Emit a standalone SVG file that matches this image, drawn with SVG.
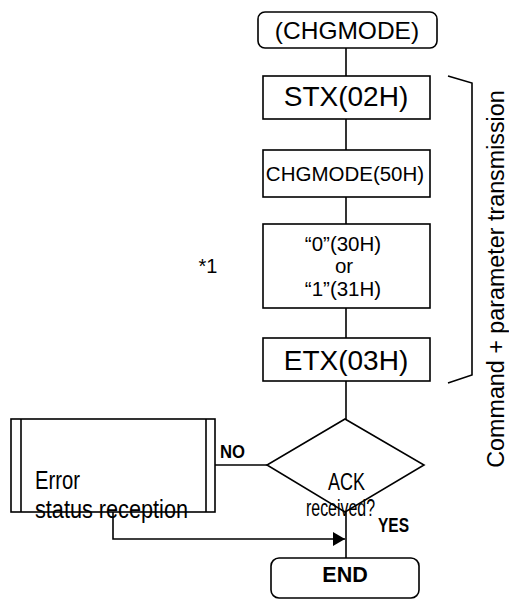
<svg xmlns="http://www.w3.org/2000/svg" width="509" height="599" viewBox="0 0 509 599">
  <style>
    .box { fill: #fff; stroke: #000; stroke-width: 1.6; }
    .ln { fill: none; stroke: #000; stroke-width: 1.6; }
    .t { font-family: "Liberation Sans", Arial, sans-serif; fill: #000; text-anchor: middle; }
    .n { font-family: "Liberation Sans Narrow", "Liberation Sans", Arial, sans-serif; fill: #000; }
    .b { font-weight: bold; }
  </style>
  <defs>
    <marker id="arrow" markerWidth="12" markerHeight="14" refX="12" refY="7" orient="auto" markerUnits="userSpaceOnUse">
      <path d="M0,0 L12,7 L0,14 Z" fill="#000"/>
    </marker>
  </defs>

  <!-- connectors -->
  <g id="connectors">
    <line class="ln" x1="346" y1="48" x2="346" y2="76"/>
    <line class="ln" x1="346" y1="119" x2="346" y2="150"/>
    <line class="ln" x1="346" y1="197" x2="346" y2="224"/>
    <line class="ln" x1="346" y1="308" x2="346" y2="338"/>
    <line class="ln" x1="346" y1="381" x2="346" y2="419"/>
    <line class="ln" x1="346" y1="512" x2="346" y2="558"/>
    <line class="ln" x1="267" y1="465" x2="215" y2="465"/>
    <polyline class="ln" points="113,512 113,539 345,539" marker-end="url(#arrow)"/>
    <!-- bracket grouping the transmitted bytes -->
    <polyline class="ln" points="448,76 472,83 472,375 448,383"/>
  </g>

  <g id="start">
    <rect class="box" x="258" y="12" width="179" height="36" rx="7"/>
    <text class="t" x="347" y="39" font-size="24.5">(CHGMODE)</text>
  </g>

  <g id="stx">
    <rect class="box" x="263" y="76" width="167" height="43"/>
    <text class="t" x="346" y="106" font-size="28">STX(02H)</text>
  </g>

  <g id="cmd">
    <rect class="box" x="263" y="150" width="167" height="47"/>
    <text class="t" x="345" y="181" font-size="20.5">CHGMODE(50H)</text>
  </g>

  <g id="param">
    <rect class="box" x="263" y="224" width="167" height="84"/>
    <text class="t" x="343" y="251" font-size="20.5">“0”(30H)</text>
    <text class="t" x="344" y="273" font-size="20.5">or</text>
    <text class="t" x="343" y="296" font-size="20.5">“1”(31H)</text>
  </g>

  <g id="note">
    <text class="t" x="208" y="273" font-size="20">*1</text>
  </g>

  <g id="etx">
    <rect class="box" x="263" y="338" width="167" height="43"/>
    <text class="t" x="346" y="370" font-size="28">ETX(03H)</text>
  </g>

  <g id="label-bracket">
    <text class="t" transform="translate(504,279) rotate(-90)" font-size="23.3">Command + parameter transmission</text>
  </g>

  <g id="decision">
    <polygon class="box" points="345,419 424,465 345,512 267,465"/>
    <text class="n" x="328" y="490" font-size="24" textLength="37" lengthAdjust="spacingAndGlyphs">ACK</text>
    <text class="n" x="306" y="516" font-size="24" textLength="69" lengthAdjust="spacingAndGlyphs">received?</text>
    <text class="n b" x="220" y="458" font-size="19" textLength="25" lengthAdjust="spacingAndGlyphs">NO</text>
    <text class="n b" x="378" y="532" font-size="20" textLength="31" lengthAdjust="spacingAndGlyphs">YES</text>
  </g>

  <g id="error">
    <rect class="box" x="11" y="419" width="204" height="93"/>
    <line class="ln" x1="21" y1="419" x2="21" y2="512"/>
    <line class="ln" x1="206" y1="419" x2="206" y2="512"/>
    <text class="n" x="35" y="489" font-size="26" textLength="45" lengthAdjust="spacingAndGlyphs">Error</text>
    <text class="n" x="35" y="518" font-size="26" textLength="153" lengthAdjust="spacingAndGlyphs">status reception</text>
  </g>

  <g id="end">
    <rect class="box" x="271" y="558" width="148" height="40" rx="8"/>
    <text class="t b" x="345" y="582" font-size="21.5">END</text>
  </g>
</svg>
